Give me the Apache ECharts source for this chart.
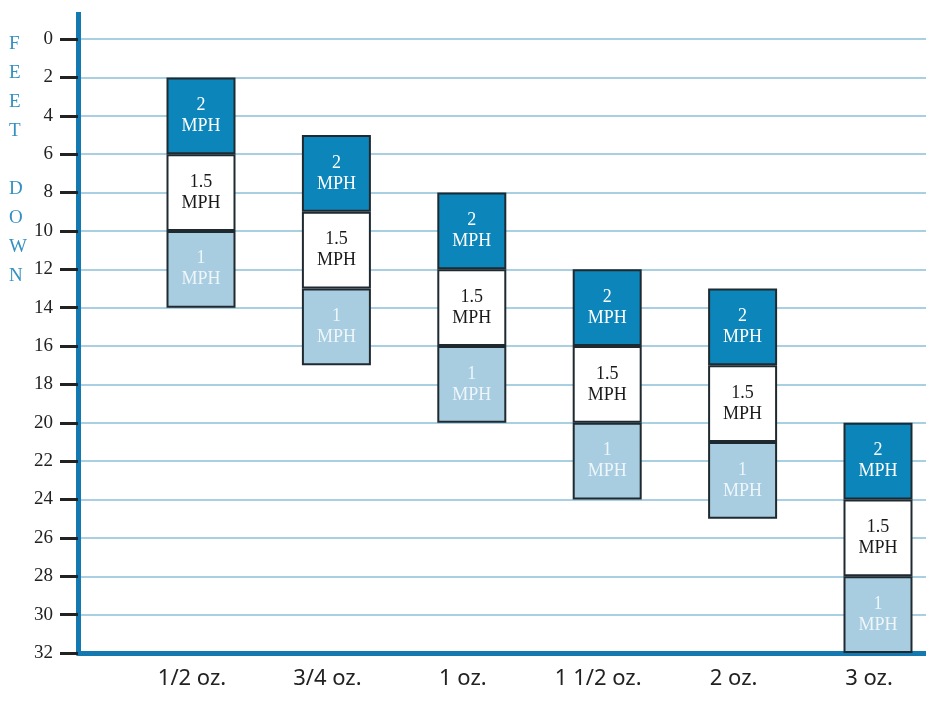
<!DOCTYPE html>
<html>
<head>
<meta charset="utf-8">
<script src="https://cdn.jsdelivr.net/npm/echarts@6/dist/echarts.min.js"></script>
<style>
  html, body { margin: 0; padding: 0; background: #fff; }
  #chart { width: 926px; height: 718px; }
</style>
</head>
<body>
<div id="chart"></div>
<script>
// lure weights on the x axis
const categories = ['1/2 oz.', '3/4 oz.', '1 oz.', '1 1/2 oz.', '2 oz.', '3 oz.']
// depth (feet down) where each speed band starts / ends
const twoMphTop = [2, 5, 8, 12, 13, 20]
const twoMphBottom = [6, 9, 12, 16, 17, 24]
const oneHalfMphBottom = [10, 13, 16, 20, 21, 28]
const oneMphBottom = [14, 17, 20, 24, 25, 32]

const blue = '#1479b0'
const gridBlue = '#a9cfe2'
const serif = 'Liberation Serif'

const diff = (a, b) => a.map((v, i) => v - b[i])

const chart = echarts.init(document.getElementById('chart'))

const bandLabel = (text, color) => ({
  show: true,
  position: 'inside',
  formatter: text,
  color: color,
  fontFamily: serif,
  fontSize: 18,
  lineHeight: 21,
})

const bandStyle = (fill) => ({
  color: fill,
  borderColor: '#1f2a30',
  borderWidth: 2,
})

const option = {
  animation: false,
  textStyle: { fontFamily: serif },
  grid: [
    // background grid: axis + gridlines over full width
    { left: 78, right: 0, top: 39, bottom: 65 },
    // bar grid: categories placed on ticks
    { left: 201, right: 48, top: 39, bottom: 65 },
  ],
  xAxis: [
    {
      gridIndex: 0,
      type: 'value',
      position: 'bottom',
      min: 0,
      max: 1,
      axisLine: { show: true, onZero: false, lineStyle: { color: blue, width: 5 } },
      axisTick: { show: false },
      axisLabel: { show: false },
      splitLine: { show: false },
    },
    {
      gridIndex: 1,
      type: 'category',
      position: 'bottom',
      data: categories,
      boundaryGap: false,
      axisLine: { show: false, onZero: false },
      axisTick: { show: false },
      axisLabel: {
        margin: 15,
        color: '#222',
        fontFamily: 'Noto Sans',
        fontSize: 22,
        padding: [0, 18, 0, 0],
      },
    },
  ],
  yAxis: [
    {
      gridIndex: 0,
      type: 'value',
      inverse: true,
      min: 0,
      max: 32,
      interval: 2,
      axisLine: { show: true, lineStyle: { color: blue, width: 5 } },
      axisTick: { show: true, length: 18, lineStyle: { color: '#222', width: 3 } },
      axisLabel: {
        margin: 25,
        formatter: '{d|{value}}',
        rich: {
          d: { color: '#222', fontFamily: serif, fontSize: 19 },
        },
      },
      splitLine: { show: true, lineStyle: { color: gridBlue, width: 2 } },
    },
    {
      gridIndex: 1,
      type: 'value',
      inverse: true,
      min: 0,
      max: 32,
      show: false,
    },
  ],
  graphic: [
    // axis line continues above the 0 tick
    {
      type: 'line',
      shape: { x1: 78.5, y1: 12, x2: 78.5, y2: 40 },
      style: { stroke: blue, lineWidth: 5 },
    },
    {
      type: 'text',
      left: 9,
      top: 30,
      style: {
        text: 'F\nE\nE\nT\n\nD\nO\nW\nN',
        fill: '#3390c2',
        font: '19px "Liberation Serif"',
        lineHeight: 29,
        align: 'center',
      },
    },
  ],
  series: [
    {
      type: 'bar',
      xAxisIndex: 1,
      yAxisIndex: 1,
      stack: 'depth',
      barWidth: 69,
      data: twoMphTop,
      itemStyle: { color: 'transparent' },
      silent: true,
    },
    {
      name: '2 MPH',
      type: 'bar',
      xAxisIndex: 1,
      yAxisIndex: 1,
      stack: 'depth',
      barWidth: 69,
      data: diff(twoMphBottom, twoMphTop),
      itemStyle: bandStyle('#0c86ba'),
      label: bandLabel('2\nMPH', '#ffffff'),
    },
    {
      name: '1.5 MPH',
      type: 'bar',
      xAxisIndex: 1,
      yAxisIndex: 1,
      stack: 'depth',
      barWidth: 69,
      data: diff(oneHalfMphBottom, twoMphBottom),
      itemStyle: bandStyle('#ffffff'),
      label: bandLabel('1.5\nMPH', '#1a1a1a'),
    },
    {
      name: '1 MPH',
      type: 'bar',
      xAxisIndex: 1,
      yAxisIndex: 1,
      stack: 'depth',
      barWidth: 69,
      data: diff(oneMphBottom, oneHalfMphBottom),
      itemStyle: bandStyle('#a8cde0'),
      label: bandLabel('1\nMPH', '#eef6fa'),
    },
  ],
}

chart.setOption(option)
</script>
</body>
</html>
